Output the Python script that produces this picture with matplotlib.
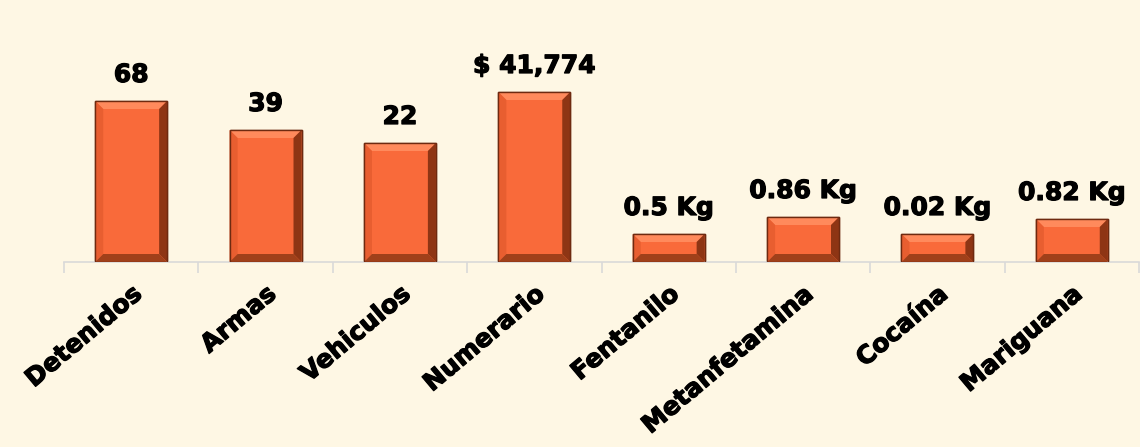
import numpy as np
import matplotlib
matplotlib.use("Agg")
import matplotlib.pyplot as plt
import matplotlib.patheffects as pe

# categories and what each bar reports
categories = ["Detenidos", "Armas", "Vehiculos", "Numerario",
              "Fentanilo", "Metanfetamina", "Cocaína", "Mariguana"]
value_labels = ["68", "39", "22", "$ 41,774",
                "0.5 Kg", "0.86 Kg", "0.02 Kg", "0.82 Kg"]
# plotted bar heights (the chart uses its own display scale per item)
bar_heights = [161, 132, 119, 170, 28, 45, 28, 43]

BG = "#FEF7E4"
FACE = "#F96A3A"
TOP = "#FF8A5C"
LEFT = "#E85E30"
RIGHT = "#8E3514"
BOTTOM = "#A0401A"
EDGE = "#6E2A10"

plt.rcParams["font.family"] = ["DejaVu Sans"]
heavy = [pe.withStroke(linewidth=0.9, foreground="black")]

fig = plt.figure(figsize=(11.4, 4.47), dpi=100, facecolor=BG)
ax = fig.add_axes([64 / 1140, 185 / 447, 1075 / 1140, 242 / 447])
ax.set_facecolor(BG)
ax.set_xlim(-0.5, len(categories) - 0.5)
ax.set_ylim(0, 242)

width = 0.535
bx = 8 / 134.4   # side bevel in data units
by = 8           # top/bottom bevel in data units

x = np.arange(len(categories))
ax.bar(x, bar_heights, width=width, color=FACE, edgecolor=EDGE,
       linewidth=1.0, zorder=2)

for xi, h in zip(x, bar_heights):
    l, r = xi - width / 2, xi + width / 2
    b, t = 0, h
    byy = min(by, h / 3)
    # bevel faces
    ax.fill([l, r, r - bx, l + bx], [t, t, t - byy, t - byy], color=TOP, lw=0, zorder=3)
    ax.fill([l, l + bx, l + bx, l], [b, b + byy, t - byy, t], color=LEFT, lw=0, zorder=3)
    ax.fill([r, r - bx, r - bx, r], [b, b + byy, t - byy, t], color=RIGHT, lw=0, zorder=3)
    ax.fill([l, r, r - bx, l + bx], [b, b, b + byy, b + byy], color=BOTTOM, lw=0, zorder=3)
    ax.bar(xi, h, width=width, fill=False, edgecolor=EDGE, linewidth=1.0, zorder=4)

for xi, h, lab in zip(x, bar_heights, value_labels):
    ax.text(xi, h + 19, lab, ha="center", va="baseline", fontsize=18,
            fontweight="bold", color="black", path_effects=heavy)

for s in ["top", "right", "left"]:
    ax.spines[s].set_visible(False)
ax.spines["bottom"].set_color("#D9D9D9")
ax.spines["bottom"].set_linewidth(1.2)
ax.set_yticks([])

ax.set_xticks(x)
ax.set_xticklabels(categories, rotation=40, ha="right", va="top",
                   rotation_mode="anchor", fontsize=18, fontweight="bold")
for t in ax.get_xticklabels():
    t.set_path_effects(heavy)
ax.tick_params(axis="x", which="major", length=0, pad=14)
ax.set_xticks(np.arange(-0.5, len(categories)), minor=True)
ax.tick_params(axis="x", which="minor", length=8, color="#D9D9D9", width=1.2)

fig.savefig("out.png", dpi=100, facecolor=BG)
